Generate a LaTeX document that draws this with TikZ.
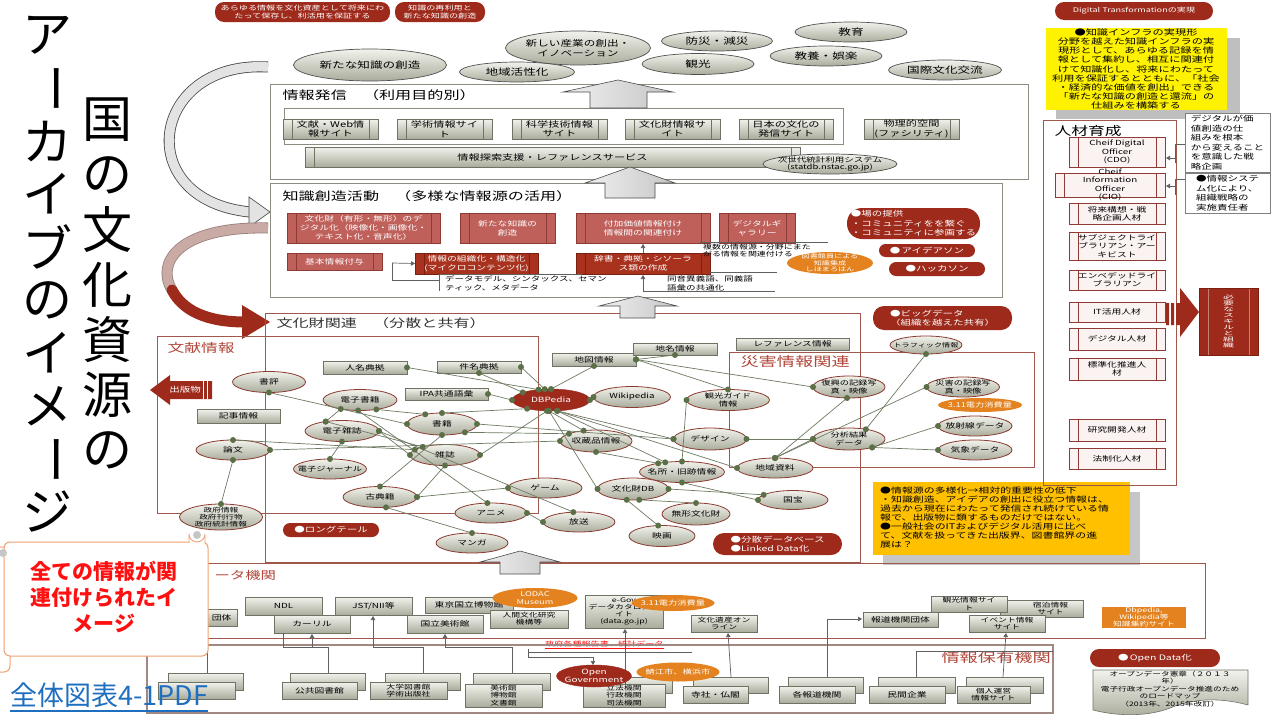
\documentclass[tikz,border=0pt]{standalone}
\usepackage{fontspec}
\setmainfont{Noto Sans CJK JP}[FakeStretch=1.4]
\newfontfamily\plainfont{Noto Sans CJK JP}
\newfontfamily\widefont{Noto Sans CJK JP}[FakeStretch=2]
\usetikzlibrary{shapes.geometric,arrows.meta,calc}
\definecolor{dred}{HTML}{9E2A1C}
\definecolor{dred2}{HTML}{A8321E}
\definecolor{dbd}{HTML}{7A2010}
\definecolor{kred}{HTML}{BF605B}
\definecolor{kbd}{HTML}{8E3A35}
\definecolor{gtop}{HTML}{F2F2EC}
\definecolor{gbot}{HTML}{A9AD9C}
\definecolor{gbd}{HTML}{6F7366}
\definecolor{elgray}{HTML}{505050}
\definecolor{elred}{HTML}{8B3B30}
\definecolor{dotg}{HTML}{5C7048}
\definecolor{lineg}{HTML}{6E7B62}
\definecolor{orng}{HTML}{E3821E}
\definecolor{amber}{HTML}{FFC000}
\definecolor{regr}{HTML}{A0574C}
\definecolor{regg}{HTML}{8C8C80}
\definecolor{titr}{HTML}{B0473A}
\definecolor{pinkw}{HTML}{FBF3F2}
\definecolor{scrollc}{HTML}{F0A070}
\definecolor{linkb}{HTML}{1F6FC0}
\definecolor{txred}{HTML}{FF1010}
\definecolor{pinkgray}{HTML}{C9AAA4}
\newcommand\fs[2]{\fontsize{#1}{#2}\selectfont}
\newcommand\rb[8]{%
  \node[#1,#2,minimum width={(#6-#4)*1pt},minimum height={(#7-#5)*1pt}] (#3) at ({(#4+#6)/2},{(#5+#7)/2}) {};
  \node[tx,#1txt] (#3t) at (#3.center) {#8};}
\newcommand\el[8]{%
  \node[#1,#2,minimum width={#6pt},minimum height={#7pt}] (#3) at (#4,#5) {};
  \node[tx,#1txt] (#3t) at (#3.center) {#8};}
\newcommand\lkline[2]{\draw[lk] (#1) -- (#2);}
\newcommand\lkdot[2]{\fill[dotg] (#1) circle (3pt); \fill[dotg] (#2) circle (3pt);}
\newcommand\edgelist{%
 \mylnk{ninmei.east}{dbpedia.140}
 \mylnk{kenmei.south}{dbpedia.165}
 \mylnk{kenmei.east}{dbpedia.120}
 \mylnk{ipa.east}{dbpedia.west}
 \mylnk{shohyo.south}{shoseki.west}
 \mylnk{dshoseki.-30}{shoseki.150}
 \mylnk{dshoseki.-100}{anime.110}
 \mylnk{dzasshi.150}{dshoseki.205}
 \mylnk{dzasshi.150}{zasshi.160}
 \mylnk{dzasshi.east}{hoso.120}
 \mylnk{dzasshi.south}{djournal.north}
 \mylnk{ronbun.north}{zasshi.170}
 \mylnk{ronbun.east}{shuzo.west}
 \mylnk{ronbun.south}{seifu.north}
 \mylnk{shoseki.north}{dbpedia.200}
 \mylnk{shoseki.east}{design.west}
 \mylnk{shoseki.-20}{shuzo.165}
 \mylnk{shoseki.south}{koten.north}
 \mylnk{zasshi.east}{dbpedia.250}
 \mylnk{zasshi.south}{koten.east}
 \mylnk{zasshi.west}{dzasshi.east}
 \mylnk{koten.east}{game.west}
 \mylnk{koten.-60}{manga.north}
 \mylnk{chizu.south}{dbpedia.north}
 \mylnk{chizu.east}{chimei.south}
 \mylnk{chizu.east}{fukko.west}
 \mylnk{chizu.east}{kanko.north}
 \mylnk{dbpedia.east}{wiki.west}
 \mylnk{dbpedia.-60}{design.west}
 \mylnk{dbpedia.-60}{chiiki.west}
 \mylnk{dbpedia.-60}{meisho.150}
 \mylnk{dbpedia.-100}{bunkadb.west}
 \mylnk{dbpedia.-100}{shuzo.140}
 \mylnk{shuzo.south}{meisho.160}
 \mylnk{meisho.north}{kanko.west}
 \mylnk{meisho.south}{kokuho.west}
 \mylnk{bunkadb.east}{kokuho.170}
 \mylnk{bunkadb.-60}{mukei.north}
 \mylnk{bunkadb.-120}{eiga.110}
 \mylnk{chiiki.north}{fukko.-100}
 \mylnk{chiiki.north}{bunseki.west}
 \mylnk{chiiki.north}{saigai.west}
 \mylnk{design.east}{bunseki.west}
 \mylnk{bunseki.30}{traffic.south}
 \mylnk{bunseki.-20}{hoshasen.west}
 \mylnk{bunseki.-20}{kisho.west}
 \mylnk{anime.east}{hoso.west}
}
\tikzset{
 tx/.style={align=center,inner sep=0pt,outer sep=0pt},
 base/.style={inner sep=0pt,outer sep=0pt},
 pbars/.style={path picture={\draw[#1,line width=0.6pt]
   ([xshift=9pt]path picture bounding box.north west) -- ([xshift=9pt]path picture bounding box.south west)
   ([xshift=-9pt]path picture bounding box.north east) -- ([xshift=-9pt]path picture bounding box.south east);}},
 topel/.style={base,ellipse,draw=elgray,line width=0.7pt,top color=gtop,bottom color=gbot},
 topeltxt/.style={font=\fs{9}{10.5}},
 topel2/.style={topel},
 topel2txt/.style={font=\fs{8.3}{10}},
 topels/.style={topel},
 topelstxt/.style={font=\fs{6.8}{7.8}},
 nel/.style={base,ellipse,draw=elred,line width=0.8pt,top color=gtop,bottom color=gbot},
 neltxt/.style={font=\fs{7}{8}},
 nel2/.style={nel},
 nel2txt/.style={font=\fs{6.6}{7.6}},
 nel3/.style={nel},
 nel3txt/.style={font=\fs{6.2}{7.2}},
 nels/.style={nel},
 nelstxt/.style={font=\fs{5.8}{6.8}},
 redel/.style={base,ellipse,fill=dred,draw=dred},
 redeltxt/.style={font=\fs{7.2}{8.2},text=white},
 orel/.style={base,ellipse,fill=orng},
 oreltxt/.style={font=\fs{6.6}{7.6},text=white},
 orels/.style={orel},
 orelstxt/.style={font=\fs{5.8}{6.6},text=white},
 gbox/.style={base,rectangle,draw=gbd,line width=0.6pt,top color=gtop,bottom color=gbot},
 gboxtxt/.style={font=\fs{7}{8}},
 gboxs/.style={gbox},
 gboxstxt/.style={font=\fs{6.3}{7.2}},
 pgb/.style={gbox,pbars=gbd},
 pgbtxt/.style={font=\fs{8}{9.5}},
 kbox/.style={base,rectangle,draw=kbd,fill=kred,line width=0.6pt,pbars=kbd},
 kboxtxt/.style={font=\fs{7}{8.8},text=white},
 dbox/.style={base,rectangle,draw=dbd,fill=dred2,line width=0.6pt,pbars=dbd},
 dboxtxt/.style={font=\fs{7}{8.8},text=white},
 hbox/.style={base,rectangle,draw=kbd,fill=pinkw,line width=0.8pt,pbars=kbd},
 hboxtxt/.style={font=\fs{7}{8.3}},
 pill/.style={base,rectangle,fill=dred,rounded corners=9pt},
 pilltxt/.style={font=\fs{6.5}{8},text=white},
 mpill/.style={pill},
 mpilltxt/.style={font=\fs{7.5}{9},text=white},
 lpill/.style={base,rectangle,fill=dred,rounded corners=11pt},
 lpilltxt/.style={font=\fs{7.5}{9.5},text=white,align=left},
 obox/.style={base,rectangle,fill=orng},
 oboxtxt/.style={font=\fs{6.3}{7.2},text=white},
 callb/.style={base,rectangle,draw=gray,fill=white,line width=0.6pt},
 callbtxt/.style={font=\fs{7.5}{9.5},align=left},
 sbox/.style={base,rectangle,fill=dred,draw=dbd,pbars=dred!60!white},
 sboxtxt/.style={font=\widefont\fs{5.5}{5.9},text=white},
 lk/.style={draw=lineg,line width=0.7pt},
 cg/.style={draw=gray!75!black,line width=0.7pt},
 arr/.style={cg,-{Triangle[length=4pt,width=4.5pt]}},
 region/.style={draw=regr,line width=0.8pt},
 gregion/.style={draw=regg,line width=0.8pt},
 bigarrow/.style={draw=gray!60!black,line width=0.6pt,left color=gray!12,right color=gray!45},
 small/.style={inner sep=0pt,align=left,anchor=north west,font=\fs{6.8}{8.5}},
}
\begin{document}
\begin{tikzpicture}[x=1pt,y=-1pt]
\useasboundingbox (0,0) rectangle (1280,720);
\fill[white] (0,0) rectangle (1280,720);

% ---------- curved arrows on the left ----------
\draw[gray!55!black,line width=11pt] (268,67) .. controls (150,60) and (130,200) .. (250,212);
\draw[gray!22,line width=9.4pt] (268,67) .. controls (150,60) and (130,200) .. (250,212);
\filldraw[fill=gray!22,draw=gray!55!black,line width=0.6pt] (249,197) -- (270,212) -- (249,227) -- cycle;
\draw[pinkgray!75!black,line width=11pt] (268,228) .. controls (180,226) and (155,262) .. (172,290);
\draw[pinkgray,line width=9.4pt] (268,228) .. controls (180,226) and (155,262) .. (172,290);
\draw[dred,line width=11pt,line cap=round] (172,290) .. controls (185,315) and (215,322) .. (245,322);
\fill[dred] (242,305) -- (270,322) -- (242,339) -- cycle;

% ---------- top ----------
\rb{pill}{}{p1}{215}{2}{390}{22}{あらゆる情報を文化資産として将来にわ\\たって保存し、利活用を保証する}
\rb{pill}{}{p2}{395}{2}{485}{22}{知識の再利用と\\新たな知識の創造}
\rb{pill}{}{p3}{1055}{2}{1213}{20}{Digital Transformationの実現}

\el{topel}{}{e1}{370}{65}{153}{32}{新たな知識の創造}
\el{topel}{}{e2}{517}{72}{115}{20}{地域活性化}
\el{topel2}{}{e3}{578}{48}{145}{34}{新しい産業の創出・\\イノベーション}
\el{topel}{}{e4}{717}{41}{111}{20}{防災・減災}
\el{topel}{}{e5}{698}{64}{112}{21}{観光}
\el{topel}{}{e6}{851}{32}{112}{20}{教育}
\el{topel}{}{e7}{826}{56}{112}{20}{教養・娯楽}
\el{topel}{}{e8}{945}{70}{113}{20}{国際文化交流}

% ---------- 情報発信 ----------
\draw[gregion] (270,84) rectangle (1028,179);
\node[anchor=west,font=\fs{11.5}{13}] (t1) at (279,95) {情報発信　（利用目的別）};
\draw[gregion] (284,108) rectangle (843,144);
\rb{pgb}{}{s1}{283}{119}{378}{139}{文献・Web情\\報サイト}
\rb{pgb}{}{s2}{397}{119}{492}{139}{学術情報サイ\\ト}
\rb{pgb}{}{s3}{512}{119}{607}{139}{科学技術情報\\サイト}
\rb{pgb}{}{s4}{625}{119}{720}{139}{文化財情報サ\\イト}
\rb{pgb}{}{s5}{739}{119}{833}{139}{日本の文化の\\発信サイト}
\rb{pgb}{}{s6}{864}{119}{959}{139}{物理的空間\\(ファシリティ)}
\rb{pgb}{}{s7}{305}{147}{800}{167}{情報探索支援・レファレンスサービス}
\el{topels}{}{statdb}{830}{164}{134}{20}{次世代統計利用システム\\(statdb.nstac.go.jp)}
\path[bigarrow] (618,80) -- (673,92) -- (647,92) -- (647,108) -- (590,108) -- (590,92) -- (563,92) -- cycle;

% ---------- 知識創造活動 ----------
\draw[gregion] (270,183) rectangle (1002,297);
\node[anchor=west,font=\fs{11.5}{13}] (t2) at (279,196) {知識創造活動　（多様な情報源の活用）};
\rb{kbox}{}{k1}{287}{213}{440}{243}{文化財（有形・無形）のデ\\ジタル化（映像化・画像化・\\テキスト化・音声化）}
\rb{kbox}{}{k2}{460}{213}{555}{243}{新たな知識の\\創造}
\rb{kbox}{}{k3}{576}{213}{710}{243}{付加価値情報付け\\情報間の関連付け}
\rb{kbox}{}{k4}{719}{213}{795}{243}{デジタルギ\\ャラリー}
\rb{kbox}{}{k5}{287}{253}{382}{270}{基本情報付与}
\rb{dbox}{}{k6}{415}{253}{538}{274}{情報の組織化・構造化\\(マイクロコンテンツ化)}
\rb{dbox}{}{k7}{576}{253}{710}{274}{辞書・典拠・シソーラ\\ス類の作成}
\draw[cg] (439,280) -- (392,280) -- (392,263);
\draw[arr] (392,263) -- (k6.west);
\draw[cg] (582,274) -- (439,274) -- (439,291);
\node[small] (n1) at (445,276) {データモデル、シンタックス、セマン\\ティック、メタデータ};
\draw[arr] (643,253) -- (643,244);
\draw[arr] (643,291) -- (643,275);
\draw[cg] (643,291) -- (775,291);
\draw[cg] (710,272) -- (777,272);
\node[small] (n2) at (667,276) {同音異義語、同義語\\語彙の共通化};
\draw[cg] (700,242) -- (828,242);
\node[small,font=\fs{6.4}{7.4}] (n3) at (703,244) {複数の情報源・分野にまた\\がる情報を関連付ける};
\el{orels}{}{lib}{830}{263}{86}{22}{図書館員による\\知識集成\\しほまろはん}
\rb{lpill}{rounded corners=15pt}{bano}{847}{208}{980}{239}{●場の提供\\・コミュニティをを繋ぐ\\・コミュニティに参画する}
\rb{mpill}{rounded corners=6.5pt}{idea}{879}{244}{975}{257}{●\,アイデアソン}
\rb{mpill}{rounded corners=7pt}{hack}{889}{262}{985}{276}{●ハッカソン}
\path[bigarrow] (630,167) -- (675,183) -- (655,183) -- (655,198) -- (605,198) -- (605,183) -- (585,183) -- cycle;

% ---------- 文化財関連 ----------
\draw[region] (265,313) rectangle (860,562);
\draw[region] (157,336) rectangle (538,513);
\draw[region] (729,352) rectangle (1034,467);
\path[bigarrow] (638,296) -- (677,306) -- (655,306) -- (655,318) -- (620,318) -- (620,306) -- (599,306) -- cycle;
\node[anchor=west,font=\fs{11.5}{13},text=black!80] (t3) at (273,323) {文化財関連　（分散と共有）};
\node[anchor=west,font=\fs{12}{14},text=titr] (t4) at (164,348) {文献情報};
\node[anchor=west,font=\fs{13}{15},text=titr] (t5) at (737,362) {災害情報関連};

\rb{gbox}{}{ninmei}{323}{361}{407}{374}{人名典拠}
\rb{gbox}{}{kenmei}{437}{361}{521}{373}{件名典拠}
\rb{gbox}{}{ipa}{405}{388}{488}{400}{IPA共通語彙}
\rb{gbox}{}{kiji}{197}{409}{280}{423}{記事情報}
\rb{gbox}{}{chizu}{552}{353}{636}{366}{地図情報}
\rb{gbox}{}{chimei}{633}{343}{717}{355}{地名情報}
\rb{gbox}{}{ref}{736}{338}{849}{350}{レファレンス情報}

\el{nel}{}{shohyo}{269}{382}{73}{21}{書評}
\el{nel}{}{dshoseki}{360}{400}{74}{21}{電子書籍}
\el{nel}{}{dzasshi}{342}{431}{74}{21}{電子雑誌}
\el{nel}{}{shoseki}{442}{424}{70}{22}{書籍}
\el{nel}{}{ronbun}{233}{450}{74}{20}{論文}
\el{nel}{}{zasshi}{445}{455}{70}{21}{雑誌}
\el{nel2}{}{djournal}{330}{469}{73}{20}{電子ジャーナル}
\el{nel}{}{koten}{380}{497}{74}{21}{古典籍}
\el{nel3}{}{seifu}{221}{517}{83}{26}{政府情報\\政府刊行物\\政府統計情報}
\el{redel}{}{dbpedia}{551}{400}{78}{22}{DBPedia}
\el{nel}{}{wiki}{632}{397}{77}{21}{Wikipedia}
\el{nel2}{}{kanko}{728}{400}{83}{21}{観光ガイド\\情報}
\el{nel}{}{shuzo}{596}{441}{72}{22}{収蔵品情報}
\el{nel}{}{design}{710}{439}{73}{22}{デザイン}
\el{nel}{}{meisho}{682}{472}{85}{21}{名所・旧跡情報}
\el{nel}{}{chiiki}{775}{468}{76}{20}{地域資料}
\el{nel}{}{game}{545}{488}{74}{20}{ゲーム}
\el{nel}{}{bunkadb}{633}{489}{71}{22}{文化財DB}
\el{nel}{}{kokuho}{793}{500}{70}{19}{国宝}
\el{nel2}{}{fukko}{849}{387}{72}{22}{復興の記録写\\真・映像}
\el{nel2}{}{bunseki}{849}{439}{72}{22}{分析結果\\データ}
\el{nels}{}{traffic}{926}{345}{72}{18}{トラフィック情報}
\el{nel2}{}{saigai}{963}{387}{73}{20}{災害の記録写\\真・映像}
\el{orel}{}{denryoku}{980}{405}{84}{14}{3.11電力消費量}
\el{nel}{}{hoshasen}{975}{426}{74}{20}{放射線データ}
\el{nel}{}{kisho}{975}{450}{74}{20}{気象データ}
\el{nel}{}{anime}{491}{513}{72}{20}{アニメ}
\el{nel}{}{hoso}{579}{522}{72}{20}{放送}
\el{nel}{}{manga}{472}{543}{72}{20}{マンガ}
\el{nel}{}{eiga}{662}{536}{66}{21}{映画}
\el{nel}{}{mukei}{696}{514}{68}{22}{無形文化財}

\let\mylnk\lkline \edgelist
\let\mylnk\lkdot \edgelist

\rb{mpill}{rounded corners=7pt}{longtail}{283}{523}{379}{537}{●ロングテール}
\rb{lpill}{}{bunsan}{713}{533}{842}{555}{●分散データベース\\●Linked Data化}
\rb{lpill}{}{bigdata}{873}{306}{1012}{330}{●ビッグデータ\\（組織を越えた共有）}

\fill[dred] (150,390) -- (170,375) -- (170,381) -- (212,381) -- (212,399) -- (170,399) -- (170,405) -- cycle;
\draw[white,line width=0.8pt] (203,381) -- (203,399) (207,381) -- (207,399);
\node[font=\fs{7.5}{9},text=white] (pubarrow) at (185,390) {出版物};

% ---------- amber note ----------
\fill[gray!45] (883,492) rectangle (1140,565);
\fill[amber] (873,482) rectangle (1130,555);
\node[anchor=north west,align=left,inner sep=0pt,font=\fs{7.8}{9}] (note2) at (880,487)
 {●情報源の多様化→相対的重要性の低下\\・知識創造、アイデアの創出に役立つ情報は、\\過去から現在にわたって発信され続けている情\\報で、出版物に類するものだけではない。\\●一般社会のITおよびデジタル活用に比べ\\て、文献を扱ってきた出版界、図書館界の進\\展は？};

% ---------- right column ----------
\fill[gray!50] (1056,38) rectangle (1240,119);
\fill[yellow] (1046,28) rectangle (1227,110);
\node[align=center,inner sep=0pt,font=\fs{8}{9.1}] (note1) at (1136,69)
 {●知識インフラの実現形\\分野を越えた知識インフラの実\\現形として、あらゆる記録を情\\報として集約し、相互に関連付\\けて知識化し、将来にわたって\\利用を保証するとともに、「社会\\・経済的な価値を創出」できる\\「新たな知識の創造と還流」の\\仕組みを構築する};

\draw[region] (1043,120) rectangle (1176,485);
\node[anchor=west,font=\fs{12}{14}] (t6) at (1051,131) {人材育成};
\rb{hbox}{}{h1}{1069}{137}{1165}{167}{Cheif Digital\\Officer\\(CDO)}
\rb{hbox}{}{h2}{1055}{173}{1165}{197}{Cheif\\Information\\Officer\\(CIO)}
\rb{hbox}{}{h3}{1069}{203}{1165}{224}{将来構想・戦\\略企画人材}
\rb{hbox}{}{h4}{1069}{232}{1165}{260}{サブジェクトライ\\ブラリアン・アー\\キビスト}
\rb{hbox}{}{h5}{1069}{270}{1165}{290}{エンベデッドライ\\ブラリアン}
\rb{hbox}{}{h6}{1069}{302}{1165}{322}{IT活用人材}
\rb{hbox}{}{h7}{1069}{328}{1165}{350}{デジタル人材}
\rb{hbox}{}{h8}{1069}{358}{1165}{380}{標準化推進人\\材}
\rb{hbox}{}{h9}{1069}{419}{1165}{441}{研究開発人材}
\rb{hbox}{}{h10}{1069}{448}{1165}{469}{法制化人材}
\rb{callb}{}{c1}{1185}{113}{1270}{172}{デジタルが価\\値創造の仕\\組みを根本\\から変えること\\を意識した戦\\略企画}
\rb{callb}{}{c2}{1185}{173}{1270}{213}{●情報システ\\ム化により、\\組織戦略の\\実施責任者}
\draw[cg] (1185,144) -- (1175,144) -- (1175,163);
\draw[arr] (1175,158) -- (1166,158);
\draw[cg] (1185,179) -- (1175,179) -- (1175,195);
\draw[arr] (1175,186) -- (1166,186);
\fill[dred] (1166,303) rectangle (1169,325) (1171,303) rectangle (1174,325) (1176,303) rectangle (1181,325);
\fill[dred] (1180,288) -- (1199,312) -- (1180,337) -- cycle;
\rb{sbox}{}{skill}{1199}{288}{1258}{355}{必\\要\\な\\ス\\キ\\ル\\と\\組\\織}

% ---------- オープンデータ機関 ----------
\draw[region] (148,563) rectangle (1205,638);
\path[bigarrow] (520,551) -- (560,562) -- (540,562) -- (540,574) -- (500,574) -- (500,562) -- (480,562) -- cycle;
\node[anchor=west,font=\fs{11}{13},text=titr] (t7) at (211,575) {ータ機関};
\rb{gbox}{}{dantai}{150}{609}{237}{626}{}
\node[anchor=east,font=\fs{7}{8}] (dantait2) at (235,617.5) {団体};
\rb{gbox}{}{ndl}{245}{597}{322}{615}{NDL}
\rb{gbox}{}{jst}{335}{597}{412}{615}{JST/NII等}
\rb{gbox}{}{tohaku}{425}{597}{513}{613}{東京国立博物館}
\rb{gbox}{}{calil}{274}{615}{350}{633}{カーリル}
\rb{gbox}{}{kokubi}{407}{615}{483}{633}{国立美術館}
\rb{gboxs}{}{ningen}{490}{610}{568}{628}{人間文化研究\\機構等}
\el{orel}{}{lodac}{535}{598}{85}{20}{LODAC\\Museum}
\rb{gboxs}{}{egov}{585}{595}{663}{628}{e-Gov\\データカタログサ\\イト\\(data.go.jp)}
\el{orel}{}{den2}{673}{603}{83}{16}{3.11電力消費量}
\rb{gboxs}{}{bunkaisan}{691}{615}{757}{632}{文化遺産オン\\ライン}
\rb{gbox}{}{hodo}{863}{612}{938}{627}{報道機関団体}
\rb{gboxs}{}{shukuhaku}{1000}{600}{1083}{617}{\hspace*{18pt}宿泊情報\\\hspace*{18pt}サイト}
\rb{gboxs}{}{kankosite}{931}{596}{1007}{612}{観光情報サイ\\ト}
\rb{gboxs}{}{event}{969}{615}{1045}{632}{イベント情報\\サイト}
\rb{obox}{}{dbwiki}{1102}{607}{1186}{628}{Dbpedia,\\Wikipedia等\\知識集約サイト}
\draw[cg] (528,652) -- (692,652);
\node[anchor=west,inner sep=0pt,font=\fs{6.5}{7.5},text=txred] (govrep) at (545,645) {\underline{政府各種報告書、統計データ}};

% ---------- 情報保有機関 ----------
\draw[draw=pinkgray!80!black,line width=1.3pt] (147,645) rectangle (1053,713);
\node[anchor=west,font=\fs{13}{15},text=titr] (t8) at (938,658) {情報保有機関};
\rb{gbox}{}{pubb}{168}{673}{243}{690}{}
\rb{gbox}{}{pub}{158}{682}{235}{699}{}
\rb{gbox}{}{libb}{290}{673}{365}{690}{}
\rb{gbox}{}{publib}{282}{682}{357}{699}{公共図書館}
\rb{gbox}{}{univb}{385}{673}{460}{690}{}
\rb{gboxs}{}{univ}{370}{682}{447}{699}{大学図書館\\学術出版社}
\rb{gbox}{}{musb}{473}{673}{550}{690}{}
\rb{gboxs}{}{mus}{465}{684}{542}{707}{美術館\\博物館\\文書館}
\rb{gbox}{}{govb}{592}{677}{672}{693}{}
\rb{gboxs}{}{gov}{583}{684}{665}{707}{立法機関\\行政機関\\司法機関}
\rb{gbox}{}{templeb}{693}{677}{768}{693}{}
\rb{gbox}{}{temple}{683}{686}{748}{703}{寺社・仏閣}
\rb{gbox}{}{pressb}{788}{677}{863}{693}{}
\rb{gbox}{}{press}{779}{686}{855}{703}{各報道機関}
\rb{gbox}{}{compb}{878}{677}{955}{693}{}
\rb{gbox}{}{comp}{869}{686}{945}{703}{民間企業}
\rb{gbox}{}{persb}{966}{677}{1043}{693}{}
\rb{gboxs}{}{pers}{957}{686}{1030}{703}{個人運営\\情報サイト}

\draw[cg] (207,651) -- (207,673);
\draw[cg] (328,673) -- (328,647) -- (283,647) -- (283,633);
\draw[arr] (312,647) -- (312,634);
\draw[cg] (423,673) -- (423,647) -- (373,647);
\draw[arr] (373,647) -- (373,616);
\draw[cg] (512,673) -- (512,647) -- (445,647);
\draw[arr] (445,647) -- (445,634);
\draw[arr] (625,684) -- (625,629);
\draw[arr] (731,677) -- (728,633);
\draw[cg] (827,677) -- (827,619);
\draw[arr] (827,619) -- (862,619);
\draw[cg] (916,677) -- (916,651) -- (1053,651);
\draw[arr] (1003,677) -- (1006,633);
\draw[cg] (528,649) -- (528,657) -- (593,657);
\draw[arr] (593,657) -- (593,665);
\el{redel}{}{opengov}{594}{676}{75}{22}{Open\\Government}
\el{orel}{}{sabae}{678}{672}{83}{19}{鯖江市、横浜市}

% ---------- open data ----------
\rb{mpill}{}{opendata}{1090}{649}{1220}{667}{●\,Open Data化}
\path[draw=gbd,line width=0.6pt,top color=gtop,bottom color=gbot] (1093,670) -- (1248,670) -- (1248,705) .. controls (1215,696) and (1190,700) .. (1170,708) .. controls (1150,716) and (1120,717) .. (1093,710) -- cycle;
\node[align=center,inner sep=0pt,font=\fs{6.2}{7.4}] (odt) at (1170,689) {オープンデータ憲章（２０１３\\年）\\電子行政オープンデータ推進のため\\のロードマップ\\（2013年、2015年改訂）};

% ---------- scroll callout ----------
\filldraw[fill=white,draw=scrollc,line width=1pt,rounded corners=6pt] (-6,547) rectangle (10,672);
\filldraw[fill=white,draw=scrollc,line width=1pt,rounded corners=6pt] (4,542) rectangle (208,656);
\filldraw[fill=white,draw=scrollc,line width=0.8pt] (189,543) -- (189,534) arc[start angle=180,end angle=0,radius=8] -- (205,543);
\fill[gray!45] (197,535) circle (4);
\fill[gray!45] (3,553) circle (4);
\node[align=center,font=\plainfont\bfseries\fs{21}{26},text=txred] (call) at (104,597) {全ての情報が関\\連付けられたイ\\メージ};

% ---------- link ----------
\node[anchor=west,inner sep=0pt,font=\plainfont\fs{27}{30},text=linkb] (link) at (10,695) {全体図表4-1PDF};
\draw[linkb,line width=1.2pt] (10,711) -- (link.east |- 0,711);

% ---------- title ----------
\foreach \c/\y/\r [count=\i] in {ア/35/0,ー/88/-90,カ/141/0,イ/194/0,ブ/247/0,の/300/0,イ/353/0,メ/406/0,ー/459/-90,ジ/512/0}
  {\node[rotate=\r,inner sep=0pt,font=\plainfont\fs{50}{50}] (ta\i) at (48,\y) {\c};}
\foreach \c/\y [count=\i] in {国/120,の/175,文/230,化/285,資/340,源/395,の/450}
  {\node[inner sep=0pt,font=\plainfont\fs{50}{50}] (tb\i) at (107,\y) {\c};}
\end{tikzpicture}
\end{document}
